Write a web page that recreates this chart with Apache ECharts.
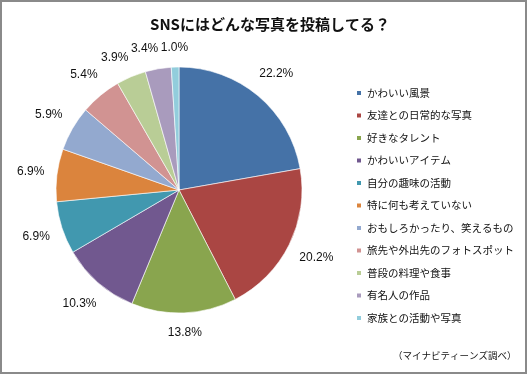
<!DOCTYPE html>
<html>
<head>
<meta charset="utf-8">
<script src="https://cdn.jsdelivr.net/npm/echarts@6/dist/echarts.min.js"></script>
<style>
html,body{margin:0;padding:0;background:#fff;}
#c{width:528px;height:375px;}
</style>
</head>
<body>
<div id="c"></div>
<script>
var titleText = 'SNSにはどんな写真を投稿してる？';
var sourceText = '（マイナビティーンズ調べ）';
var categories = ['かわいい風景','友達との日常的な写真','好きなタレント','かわいいアイテム','自分の趣味の活動','特に何も考えていない','おもしろかったり、笑えるもの','旅先や外出先のフォトスポット','普段の料理や食事','有名人の作品','家族との活動や写真'];
var values = [22.2, 20.2, 13.8, 10.3, 6.9, 6.9, 5.9, 5.4, 3.9, 3.4, 1.0];
var palette = ['#4572A7','#AA4643','#89A54E','#71588F','#4198AF','#DB843D','#93A9CF','#D19392','#B9CD96','#A99BBD','#92CDDC'];

var chart = echarts.init(document.getElementById('c'), null, {renderer: 'canvas'});
var jp = '"Noto Sans CJK JP", "Noto Sans", sans-serif';
var labelFamily = '"Liberation Sans", Arial, sans-serif';
var labelSize = 12;
function fmt(v) { return v.toFixed(1) + '%'; }

var placed = null;
function posAt(lay, ang, w, h, gap) {
  var ux = Math.cos(ang), uy = Math.sin(ang);
  var d = lay.r + gap + w / 2 * Math.abs(ux) + h / 2 * Math.abs(uy);
  return {x: lay.cx + d * ux, y: lay.cy + d * uy, w: w, h: h};
}
function hits(a, b) {
  return Math.abs(a.x - b.x) < (a.w + b.w) / 2 + 2 && Math.abs(a.y - b.y) < (a.h + b.h) / 2 - 1;
}
function computePlacement() {
  var data = chart.getModel().getSeriesByIndex(0).getData();
  var ctx = document.createElement('canvas').getContext('2d');
  ctx.font = labelSize + 'px ' + labelFamily;
  var n = data.count();
  var res = [], boxes = [];
  for (var i = n - 1; i >= 0; i--) {
    var lay = data.getItemLayout(i);
    var w = ctx.measureText(fmt(data.get('value', i))).width, h = 14;
    var ang = (lay.startAngle + lay.endAngle) / 2;
    var pos = posAt(lay, ang, w, h, 12);
    for (var k = 0; k < 90; k++) {
      var clash = boxes.some(function (b) { return hits(b, pos); });
      if (!clash) break;
      ang -= Math.PI / 360;
      pos = posAt(lay, ang, w, h, 12);
    }
    boxes.push(pos);
    res[i] = pos;
  }
  return res;
}
function placeLabel(p) {
  if (!placed) placed = computePlacement();
  var q = placed[p.dataIndex];
  return {x: q.x, y: q.y, align: 'center', verticalAlign: 'middle'};
}

chart.setOption({
  animation: false,
  color: palette,
  title: {
    text: titleText,
    left: 265, top: 12, textAlign: 'center',
    textStyle: {fontFamily: jp, fontSize: 15, fontWeight: 'bold', color: '#111'}
  },
  legend: {
    orient: 'vertical', left: 350, top: 81,
    icon: 'rect', itemWidth: 6, itemHeight: 6, itemGap: 8.5,
    data: categories,
    textStyle: {fontFamily: jp, fontSize: 10.5, lineHeight: 14, color: '#111'}
  },
  graphic: [
    {type: 'rect', silent: true, shape: {x: 1, y: 1, width: 525, height: 372},
     style: {fill: 'none', stroke: '#8a8a8a', lineWidth: 2}},
    {type: 'text', left: 393, top: 351, silent: true,
     style: {text: sourceText, font: '9.5px "Noto Sans CJK JP"', fill: '#111'}}
  ],
  series: [{
    type: 'pie',
    center: [179, 190],
    radius: 123,
    startAngle: 90,
    clockwise: true,
    avoidLabelOverlap: false,
    itemStyle: {borderColor: '#ffffff', borderWidth: 0.6},
    label: {
      show: true, position: 'outside',
      formatter: function (p) { return fmt(p.value); },
      fontFamily: labelFamily, fontSize: labelSize, color: '#111'
    },
    labelLine: {show: false},
    labelLayout: placeLabel,
    emphasis: {disabled: true},
    data: categories.map(function (n, i) { return {name: n, value: values[i]}; })
  }]
});
</script>
</body>
</html>
